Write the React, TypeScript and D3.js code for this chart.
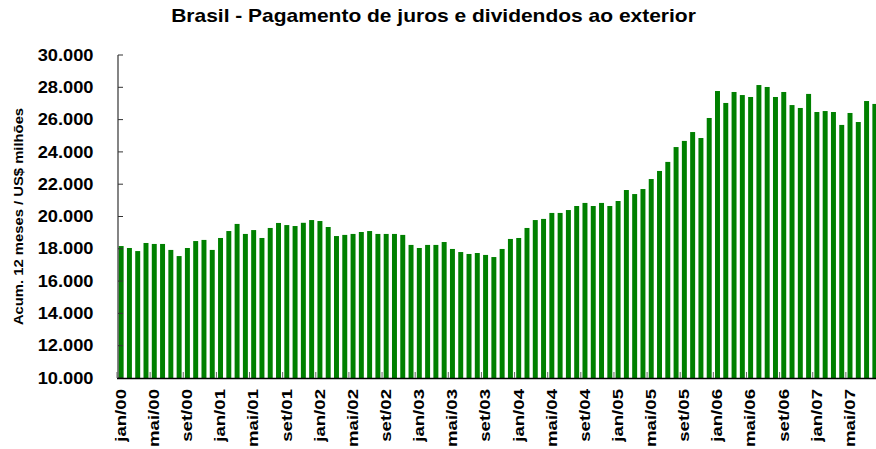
import * as d3 from 'd3'

// Meses (rótulos das categorias), jan/00 até ago/07
const MONTHS = ['jan', 'fev', 'mar', 'abr', 'mai', 'jun', 'jul', 'ago', 'set', 'out', 'nov', 'dez']
const YEARS = ['00', '01', '02', '03', '04', '05', '06', '07']
const LAST_MONTH_2007 = 8

const PERIODS: string[] = YEARS.flatMap((yy, yi) =>
  MONTHS.filter((_, mi) => yi < YEARS.length - 1 || mi < LAST_MONTH_2007).map((m) => `${m}/${yy}`),
)

// Acumulado 12 meses, US$ milhões
const VALUES = [
  18170, 18050, 17860, 18360, 18300, 18300, 17930, 17550, 18050, 18480, 18550, 17930,
  18670, 19100, 19540, 18920, 19160, 18670, 19290, 19600, 19470, 19410, 19610, 19780,
  19720, 19350, 18790, 18860, 18920, 19040, 19100, 18920, 18920, 18920, 18860, 18240,
  18050, 18240, 18240, 18420, 17990, 17800, 17680, 17740, 17620, 17490, 17990, 18610,
  18670, 19290, 19780, 19850, 20220, 20220, 20400, 20650, 20840, 20650, 20840, 20650,
  20960, 21640, 21390, 21700, 22320, 22820, 23380, 24300, 24680, 25230, 24860, 26100,
  27770, 27030, 27710, 27520, 27400, 28140, 28020, 27400, 27710, 26900, 26720, 27590,
  26470, 26530, 26470, 25670, 26410, 25850, 27150, 26970,
]

const Y_TICKS = [10000, 12000, 14000, 16000, 18000, 20000, 22000, 24000, 26000, 28000, 30000]
const LABEL_EVERY = 4

const TITLE = 'Brasil - Pagamento de juros e dividendos ao exterior'
const Y_TITLE = 'Acum. 12 meses / US$ milhões'

const W = 876
const H = 449
const LEFT = 117
const RIGHT = 879
const TOP = 55
const BOTTOM = 378
const GREEN = '#008000'
const FONT = '"Liberation Sans", Arial, Helvetica, sans-serif'

const fmt = d3.formatLocale({ decimal: ',', thousands: '.', grouping: [3], currency: ['US$', ''] }).format(',d')

export default function App() {
  const x = d3.scaleBand<string>().domain(PERIODS).range([LEFT, RIGHT]).paddingInner(0.4).paddingOuter(0.2)
  const y = d3.scaleLinear().domain([10000, 30000]).range([BOTTOM, TOP])
  const bw = x.bandwidth()
  const gap = (x.step() * x.paddingInner()) / 2

  return (
    <svg
      width={W}
      height={H}
      viewBox={`0 0 ${W} ${H}`}
      style={{ position: 'absolute', left: 0, top: 0, background: '#fff' }}
      fontFamily={FONT}
      fontWeight="bold"
    >
      <text transform={`translate(433.5, 21.7) scale(1.2, 1)`} textAnchor="middle" fontSize={17.5} fill="#000">
        {TITLE}
      </text>

      <text
        transform={`translate(23.3, 216.5) rotate(-90) scale(1.14, 1)`}
        textAnchor="middle"
        fontSize={13}
        fill="#000"
      >
        {Y_TITLE}
      </text>

      {PERIODS.map((p, i) => (
        <rect key={p} x={x(p)} y={y(VALUES[i])} width={bw} height={BOTTOM - y(VALUES[i])} fill={GREEN} />
      ))}

      {/* eixo Y */}
      <line x1={118} x2={118} y1={TOP} y2={BOTTOM} stroke="#333" strokeWidth={1.2} />
      {Y_TICKS.map((t) => (
        <g key={t}>
          <line x1={118} x2={123} y1={y(t)} y2={y(t)} stroke="#333" strokeWidth={1} />
          <text
            transform={`translate(93.5, ${y(t) + 5.6}) scale(1.17, 1)`}
            textAnchor="end"
            fontSize={15.6}
            fill="#000"
          >
            {fmt(t)}
          </text>
        </g>
      ))}

      {/* eixo X */}
      <line x1={117} x2={W} y1={BOTTOM + 0.5} y2={BOTTOM + 0.5} stroke="#000" strokeWidth={1.3} />
      {PERIODS.map((p, i) =>
        i % LABEL_EVERY === 0 ? (
          <g key={p}>
            <line
              x1={(x(p) ?? 0) - gap}
              x2={(x(p) ?? 0) - gap}
              y1={BOTTOM}
              y2={BOTTOM - 6}
              stroke="#666"
              strokeWidth={1}
            />
            <text
              transform={`translate(${(x(p) ?? 0) + bw / 2 + 4.8}, 389) rotate(-90) scale(1.33, 1)`}
              textAnchor="end"
              fontSize={14}
              fill="#000"
            >
              {p}
            </text>
          </g>
        ) : null,
      )}
    </svg>
  )
}
